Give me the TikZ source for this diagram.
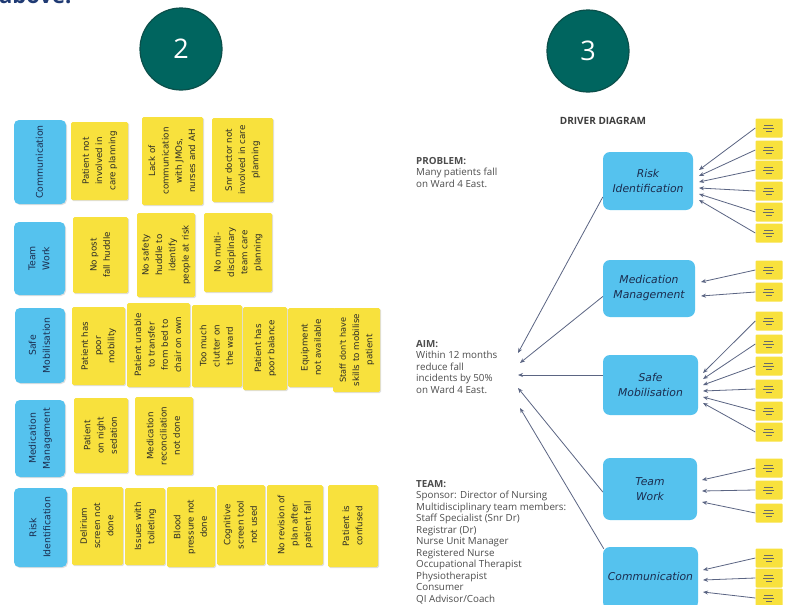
\documentclass[tikz,border=0pt]{standalone}
\usepackage{fontspec}
\setmainfont{Open Sans}
\newfontfamily\handfont{DejaVu Sans}
\usetikzlibrary{shadows,arrows.meta}

\definecolor{tealfill}{HTML}{00655F}
\definecolor{tealedge}{HTML}{0B4F4A}
\definecolor{headblue}{HTML}{1F3A73}
\definecolor{stickyY}{HTML}{F8E13D}
\definecolor{stickyB}{HTML}{55C2EE}
\definecolor{inkdark}{HTML}{2A2A26}
\definecolor{inknavy}{HTML}{1B2C4E}
\definecolor{graytext}{HTML}{4D4D4D}
\definecolor{connector}{HTML}{5B6583}

% vertical (bottom-to-top) multi-line sticky text
\newcommand\vt[1]{\rotatebox{90}{\begin{tabular}{@{}c@{}}#1\end{tabular}}}
% sticky note: style, name, centre, width, height, text
\newcommand\stick[6]{\node[#1, minimum width=#4, minimum height=#5] (#2) at (#3) {\vt{#6}};}

\tikzset{
  stepnum/.style={circle, fill=tealfill, draw=tealedge, line width=1.2pt,
    minimum size=82pt, inner sep=0pt, text=white, font=\fontsize{27}{27}\selectfont},
  ynote/.style={fill=stickyY, rounded corners=1.5pt, inner sep=0pt,
    text=inkdark, font=\handfont\fontsize{8.7}{13.3}\selectfont,
    drop shadow={shadow xshift=1pt, shadow yshift=-1pt, opacity=0.25}},
  bnote/.style={ynote, fill=stickyB, rounded corners=5pt, text=inknavy,
    font=\handfont\fontsize{9.3}{14}\selectfont},
  driver/.style={fill=stickyB, rounded corners=7pt, inner sep=0pt, align=center,
    text=inknavy, font=\handfont\itshape\fontsize{10.8}{15}\selectfont},
  mini/.style={fill=stickyY, minimum width=27pt, minimum height=19pt, inner sep=0pt,
    rounded corners=1pt,
    path picture={\draw[inkdark!70, line width=0.35pt]
      (path picture bounding box.center) ++(-5pt,3pt) -- ++(9pt,0pt)
      ++(-10pt,-3pt) -- ++(11pt,0pt) ++(-8pt,-3pt) -- ++(6pt,0pt);}},
  infotext/.style={align=left, inner sep=0pt, text=graytext,
    font=\fontsize{9.8}{11.5}\selectfont},
  conn/.style={connector, line width=0.8pt, -{Stealth[length=5pt, width=4pt]}}
}

\begin{document}
\begin{tikzpicture}[x=1pt, y=-1pt]
\useasboundingbox (0,0) rectangle (788,605);
\fill[white] (0,0) rectangle (788,605);

% heading tail cut by the top edge
\begin{scope}
  \clip (0,0) rectangle (788,605);
  \node[anchor=base west, inner sep=0pt, text=headblue,
    font=\bfseries\fontsize{22}{22}\selectfont] (abovetxt) at (-1,4) {above.};
\end{scope}

% step numbers
\node[stepnum] (step2) at (181,49) {2};
\node[stepnum] (step3) at (588,51) {3};

% ---------- affinity wall of sticky notes ----------
% communication
\stick{bnote}{bComm}{40,162}{52}{84}{Communication}
\stick{ynote}{a11}{99.5,161}{57}{78}{Patient not\\involved in\\care planning}
\stick{ynote}{a12}{172.5,161}{61}{88}{Lack of\\communication\\with JMOs,\\nurses and AH}
\stick{ynote}{a13}{242.5,160}{61}{84}{Snr doctor not\\involved in care\\planning}
% team work
\stick{bnote}{bTeam}{39.5,258.5}{51}{73}{Team\\Work}
\stick{ynote}{a21}{100.5,255}{55}{76}{No post\\fall huddle}
\stick{ynote}{a22}{166,255}{58}{84}{No safety\\huddle to\\identify\\people at risk}
\stick{ynote}{a23}{238,252.5}{68}{79}{No multi-\\disciplinary\\team care\\planning}
% safe mobilisation
\stick{bnote}{bSafe}{40,345.5}{50}{75}{Safe\\Mobilisation}
\stick{ynote}{a31}{98.5,346}{53}{78}{Patient has\\poor\\mobility}
\stick{ynote}{a32}{158.5,345}{63}{84}{Patient unable\\to transfer\\from bed to\\chair on own}
\stick{ynote}{a33}{217,346}{50}{82}{Too much\\clutter on\\the ward}
\stick{ynote}{a34}{265,348.5}{44}{83}{Patient has\\poor balance}
\stick{ynote}{a35}{311.5,347.5}{47}{79}{Equipment\\not available}
\stick{ynote}{a36}{356.5,350}{47}{84}{\fontsize{8.2}{12.5}\selectfont Staff don't have\\skills to mobilise\\patient}
% medication management
\stick{bnote}{bMed}{40,438.5}{50}{77}{Medication\\Management}
\stick{ynote}{a41}{101,435.5}{54}{75}{Patient\\on night\\sedation}
\stick{ynote}{a42}{164,436}{58}{78}{Medication\\reconciliation\\not done}
% risk identification
\stick{bnote}{bRisk}{40.5,527.5}{53}{79}{Risk\\Identification}
\stick{ynote}{a51}{97.5,526}{51}{78}{Delirium\\screen not\\done}
\stick{ynote}{a52}{145,526.5}{40}{77}{Issues with\\toileting}
\stick{ynote}{a53}{191,527}{48}{80}{Blood\\pressure not\\done}
\stick{ynote}{a54}{241,525}{48}{80}{Cognitive\\screen tool\\not used}
\stick{ynote}{a55}{295,525}{56}{80}{No revision of\\plan after\\patient fall}
\stick{ynote}{a56}{353,526}{50}{82}{Patient is\\confused}

% ---------- driver diagram ----------
\node[font=\bfseries\fontsize{10}{11}\selectfont, text=graytext!80!black] (ddtitle) at (603,121) {DRIVER DIAGRAM};

\node[infotext, anchor=north west] (problem) at (416,157)
  {\textbf{PROBLEM:}\\Many patients fall\\on Ward 4 East.};
\node[infotext, anchor=north west] (aim) at (416,340)
  {\textbf{AIM:}\\Within 12 months\\reduce fall\\incidents by 50\%\\on Ward 4 East.};
\node[infotext, anchor=north west] (team) at (416,480)
  {\textbf{TEAM:}\\Sponsor: Director of Nursing\\Multidisciplinary team members:\\Staff Specialist (Snr Dr)\\Registrar (Dr)\\Nurse Unit Manager\\Registered Nurse\\Occupational Therapist\\Physiotherapist\\Consumer\\QI Advisor/Coach};

% primary drivers
\node[driver, minimum width=90pt, minimum height=58pt] (dRisk) at (648,181) {Risk\\Identification};
\node[driver, minimum width=92pt, minimum height=57pt] (dMed) at (649,288.5) {Medication\\Management};
\node[driver, minimum width=95pt, minimum height=60pt] (dSafe) at (650.5,385) {Safe\\Mobilisation};
\node[driver, minimum width=94pt, minimum height=62pt] (dTeam) at (650,489) {Team\\Work};
\node[driver, minimum width=95pt, minimum height=62pt] (dComm) at (650.5,578) {\raisebox{3pt}{Communication}};

% secondary drivers (mini notes) and their arrows into the primary drivers
\foreach \i/\y/\t in {1/128/170,2/150/176,3/170/182,4/191/188,5/212/194,6/233/200}{
  \node[mini] (ri\i) at (769,\y) {};
  \coordinate (riT\i) at (699,\t);
  \draw[conn] (ri\i.west) -- (riT\i);
}
\foreach \i/\y/\t in {1/270/282,2/292/296}{
  \node[mini] (mm\i) at (769,\y) {};
  \coordinate (mmT\i) at (701,\t);
  \draw[conn] (mm\i.west) -- (mmT\i);
}
\foreach \i/\y/\t in {1/321/373,2/344/379,3/366/385,4/389/391,5/411/397,6/432/403}{
  \node[mini] (sm\i) at (769,\y) {};
  \coordinate (smT\i) at (703,\t);
  \draw[conn] (sm\i.west) -- (smT\i);
}
\foreach \i/\y/\t in {1/468/480,2/490/491,3/513/502}{
  \node[mini] (tw\i) at (769,\y) {};
  \coordinate (twT\i) at (702,\t);
  \draw[conn] (tw\i.west) -- (twT\i);
}
\foreach \i/\y/\t in {1/558/570,2/578/580,3/598/592}{
  \node[mini] (cm\i) at (769,\y) {};
  \coordinate (cmT\i) at (703,\t);
  \draw[conn] (cm\i.west) -- (cmT\i);
}

% primary drivers into the aim
\coordinate (aimT1) at (518,353);
\coordinate (aimT2) at (520,363);
\coordinate (aimT3) at (518,375);
\coordinate (aimT4) at (518,388);
\coordinate (aimT5) at (520,408);
\draw[conn] ([yshift=-16pt]dRisk.west) -- (aimT1);
\draw[conn] ([yshift=-8pt]dMed.west) -- (aimT2);
\draw[conn] ([yshift=10pt]dSafe.west) -- (aimT3);
\draw[conn] ([yshift=-3pt]dTeam.west) -- (aimT4);
\draw[conn] ([xshift=1pt,yshift=-2pt]dComm.north west) -- (aimT5);
\end{tikzpicture}
\end{document}
